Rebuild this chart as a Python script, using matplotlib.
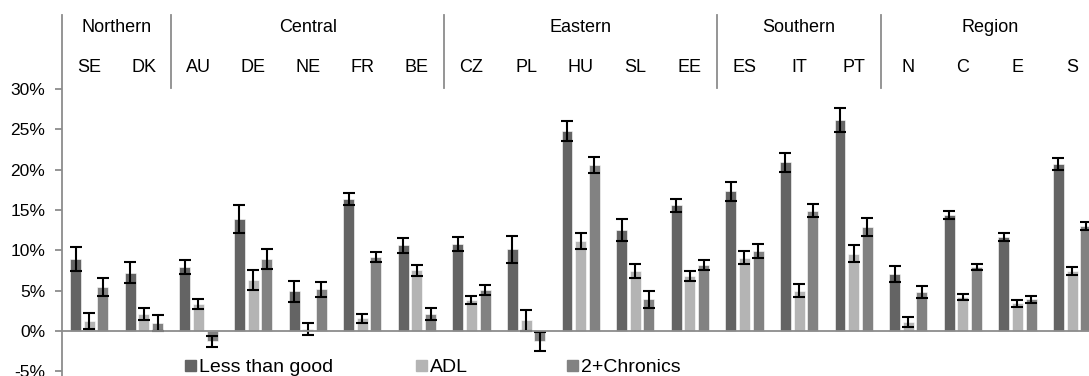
import numpy as np
import matplotlib
matplotlib.use('Agg')
import matplotlib.pyplot as plt
from matplotlib.patches import Patch

countries = ['SE', 'DK', 'AU', 'DE', 'NE', 'FR', 'BE', 'CZ', 'PL', 'HU',
             'SL', 'EE', 'ES', 'IT', 'PT', 'N', 'C', 'E', 'S']
groups = ['Northern', 'Central', 'Eastern', 'Southern', 'Region']
group_sizes = [2, 5, 5, 3, 4]

less_good = [8.9, 7.2, 7.9, 13.9, 4.9, 16.4, 10.6, 10.8, 10.1, 24.8,
             12.5, 15.6, 17.3, 20.9, 26.2, 7.1, 14.4, 11.6, 20.7]
less_good_err = [1.5, 1.3, 0.9, 1.75, 1.3, 0.75, 0.9, 0.9, 1.7, 1.25,
                 1.4, 0.8, 1.2, 1.15, 1.5, 1.0, 0.5, 0.5, 0.75]
adl = [1.2, 2.1, 3.3, 6.3, 0.25, 1.55, 7.5, 3.8, 1.3, 11.2,
       7.4, 6.8, 9.1, 5.0, 9.6, 1.1, 4.2, 3.4, 7.45]
adl_err = [1.0, 0.8, 0.6, 1.25, 0.75, 0.6, 0.7, 0.5, 1.3, 1.0,
           0.85, 0.65, 0.8, 0.8, 1.1, 0.6, 0.35, 0.4, 0.5]
chronics = [5.4, 0.95, -1.3, 8.9, 5.15, 9.2, 2.1, 5.1, -1.3, 20.6,
            3.9, 8.2, 9.9, 14.9, 12.9, 4.8, 7.9, 3.9, 13.0]
chronics_err = [1.1, 1.0, 0.7, 1.25, 0.9, 0.6, 0.7, 0.6, 1.2, 0.95,
                1.0, 0.6, 0.85, 0.8, 1.1, 0.75, 0.4, 0.4, 0.5]

series = [('Less than good', less_good, less_good_err, '#646464'),
          ('ADL', adl, adl_err, '#b4b4b4'),
          ('2+Chronics', chronics, chronics_err, '#828282')]

plt.rcParams['font.family'] = ['Liberation Sans', 'DejaVu Sans']

fig = plt.figure(figsize=(10.89, 3.76), dpi=100)
ax = fig.add_axes([62 / 1089, 0, 1 - 62 / 1089, 361 / 376])

x = np.arange(len(countries))
width = 0.2
offsets = [-0.25, 0, 0.25]
for (name, vals, errs, col), off in zip(series, offsets):
    ax.bar(x + off, vals, width, color=col, edgecolor='white', linewidth=0.4)
    ax.errorbar(x + off, vals, yerr=errs, fmt='none', ecolor='black',
                elinewidth=1.5, capsize=4.5, capthick=1.5)

ax.set_xlim(-0.5, 18.31)
ax.set_ylim(-5.6, 39.2)

grey = '#8c8c8c'
ax.spines['top'].set_visible(False)
ax.spines['right'].set_visible(False)
ax.spines['left'].set_color(grey)
ax.spines['left'].set_linewidth(1.3)
ax.spines['bottom'].set_position(('data', 0))
ax.spines['bottom'].set_color(grey)
ax.spines['bottom'].set_linewidth(1.3)
ax.set_xticks([])
ax.set_yticks(np.arange(-5, 31, 5))
ax.set_yticklabels([f'{v}%' for v in range(-5, 31, 5)], fontsize=12.5)
ax.tick_params(axis='y', length=5, color=grey, width=1.3, pad=7)

# header: country labels, group labels and separators
for i, c in enumerate(countries):
    ax.text(i, 32.7, c, ha='center', va='center', fontsize=13)
start = 0
for g, n in zip(groups, group_sizes):
    ax.text(start + (n - 1) / 2, 37.7, g, ha='center', va='center', fontsize=13)
    if start > 0:
        ax.plot([start - 0.5, start - 0.5], [30.1, 39.2], color=grey,
                linewidth=1.3, clip_on=False)
    start += n

# legend entries
legend_x = [185, 416, 567]
for (name, vals, errs, col), lx in zip(series, legend_x):
    leg = fig.legend(handles=[Patch(color=col, label=name)], loc='center left',
                     bbox_to_anchor=(lx / 1089, 8 / 376), frameon=False,
                     fontsize=14, handlelength=0.55, handleheight=0.55,
                     handletextpad=0.15, borderaxespad=0, borderpad=0)

fig.savefig('out.png', dpi=100)
